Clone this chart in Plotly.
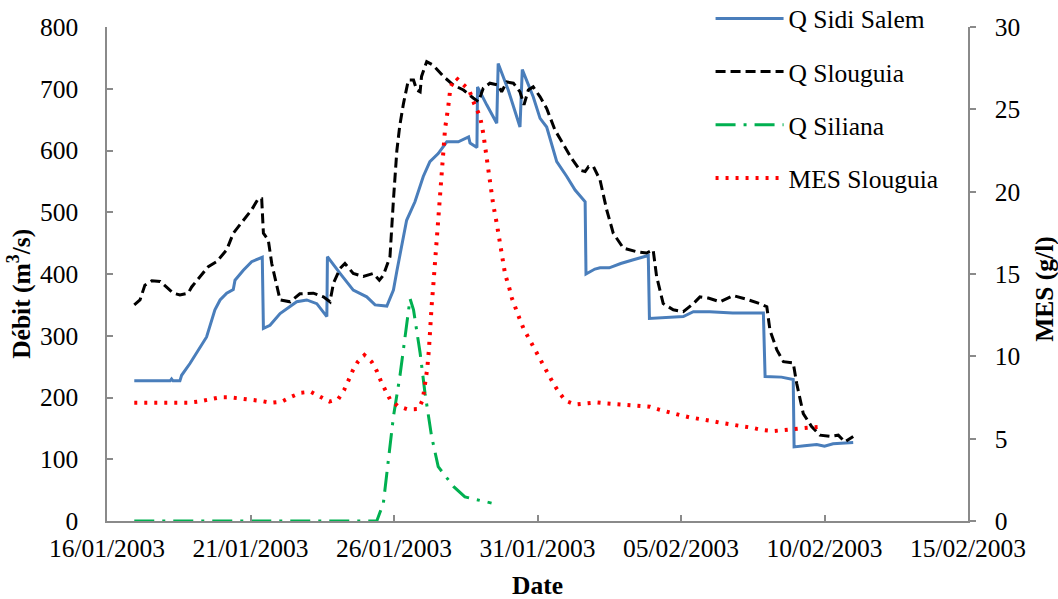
import pandas as pd
import plotly.graph_objects as go

# Time axis: days elapsed since 16/01/2003 00:00
base_date = "2003-01-16"

sidi_days = [0.95, 2.2, 2.25, 2.3, 2.54, 2.6, 2.89, 3.24, 3.47, 3.76, 3.94, 4.17, 4.4, 4.46, 4.75, 5.04,
             5.41, 5.45, 5.68, 6.03, 6.61, 6.96, 7.31, 7.66, 7.68, 8.12, 8.58, 9.05, 9.34, 9.75, 9.98,
             10.1, 10.25, 10.44, 10.73, 11.02, 11.25, 11.54, 11.84, 12.24, 12.6, 12.65, 12.89, 12.91,
             13.23, 13.58, 13.63, 13.98, 14.39, 14.47, 14.85, 15.09, 15.32, 15.67, 16.02, 16.31, 16.66,
             16.69, 17.0, 17.18, 17.5, 17.9, 18.34, 18.86, 18.9, 19.5, 20.08, 20.43, 21.0, 21.8, 22.87,
             22.93, 23.5, 23.91, 23.94, 24.3, 24.73, 25.0, 25.3, 26.0]
sidi_q = [227, 227, 230, 227, 227, 236, 255, 280, 298, 342, 358, 369, 375, 390, 406, 420,
          427, 312, 317, 336, 355, 358, 352, 331, 428, 401, 374, 363, 350, 348, 374,
          405, 440, 487, 517, 558, 582, 595, 614, 614, 622, 612, 605, 703,
          674, 644, 741, 698, 638, 731, 687, 652, 638, 582, 558, 536, 517,
          400, 408, 410, 410, 417, 423, 430, 328, 330, 331, 339, 339, 337, 337,
          234, 233, 229, 120, 122, 124, 121, 125, 127]

slou_days = [0.95, 1.15, 1.32, 1.56, 1.85, 2.08, 2.31, 2.54, 2.83, 2.95, 3.24, 3.53, 3.82, 4.17, 4.4,
             4.75, 5.04, 5.27, 5.39, 5.45, 5.62, 5.74, 5.91, 6.03, 6.38, 6.72, 7.19, 7.54, 7.77, 7.89,
             8.12, 8.29, 8.58, 8.93, 9.28, 9.49, 9.63, 9.86, 9.98, 10.1, 10.2, 10.33, 10.5, 10.68,
             10.79, 10.91, 10.96, 11.14, 11.37, 11.72, 12.07, 12.42, 12.76, 12.94, 13.11, 13.34,
             13.63, 13.75, 13.93, 14.16, 14.39, 14.53, 14.68, 14.85, 15.09, 15.32, 15.61, 15.9,
             16.19, 16.48, 16.66, 16.78, 16.95, 17.18, 17.41, 17.64, 17.99, 18.46, 18.8, 19.03,
             19.15, 19.38, 19.73, 20.08, 20.43, 20.66, 20.95, 21.36, 21.82, 22.29, 22.75, 22.99,
             23.1, 23.34, 23.57, 23.91, 24.03, 24.26, 24.55, 24.84, 25.19, 25.48, 25.71, 26.0]
slou_q = [350, 358, 382, 389, 388, 379, 369, 366, 369, 379, 396, 412, 420, 439, 466,
          487, 504, 522, 522, 466, 455, 417, 379, 358, 355, 368, 369, 363, 355, 385,
          409, 417, 401, 396, 401, 390, 398, 428, 520, 600, 640, 676, 714, 714,
          698, 695, 720, 744, 738, 720, 706, 698, 685, 679, 701, 709,
          706, 695, 711, 709, 695, 674, 698, 703, 687, 668, 633, 609,
          587, 568, 566, 574, 574, 552, 504, 466, 442, 436, 434, 439,
          396, 352, 342, 339, 352, 363, 361, 355, 365, 359, 352, 347,
          309, 277, 258, 256, 223, 174, 153, 139, 137, 139, 128, 137]

sil_days = [0.95, 9.4, 9.63, 9.75, 9.98, 10.21, 10.38, 10.56, 10.68, 10.91, 11.08, 11.31, 11.54,
            12.07, 12.47, 13.4]
sil_q = [0, 0, 29, 77, 169, 236, 298, 360, 342, 272, 207, 137, 88, 56, 39, 29]

mes_days = [0.95, 2.43, 2.83, 3.18, 3.53, 3.94, 4.29, 4.63, 4.98, 5.37, 5.71, 6.09, 6.43, 6.75,
            7.1, 7.42, 7.75, 8.06, 8.26, 8.41, 8.56, 8.74, 8.97, 9.22, 9.4, 9.55, 9.71, 9.86,
            10.13, 10.48, 10.85, 11.0, 11.05, 11.11, 11.16, 11.22, 11.25, 11.31, 11.37, 11.43,
            11.46, 11.54, 11.66, 11.78, 11.89, 11.97, 12.16, 12.42, 12.62, 12.79, 13.0, 13.11,
            13.23, 13.34, 13.46, 13.58, 13.72, 13.87, 14.02, 14.11, 14.37, 14.51, 14.68, 14.85,
            15.03, 15.2, 15.38, 15.55, 15.75, 15.98, 16.31, 16.66, 17.04, 17.41, 17.76, 18.11,
            18.49, 18.92, 19.21, 19.56, 19.94, 20.29, 20.64, 21.01, 21.36, 21.73, 22.08, 22.46,
            22.81, 23.2, 23.54, 23.91, 24.26, 24.61, 24.98]
mes_gl = [7.18, 7.18, 7.18, 7.25, 7.39, 7.51, 7.51, 7.45, 7.39, 7.29, 7.18, 7.25, 7.55, 7.79,
          7.85, 7.55, 7.25, 7.41, 7.95, 8.52, 9.13, 9.67, 10.08, 9.67, 9.11, 8.46, 7.91, 7.39,
          6.98, 6.78, 6.8, 7.35, 7.95, 8.6, 9.27, 10.49, 11.8, 13.05, 14.33, 15.65,
          16.86, 18.07, 21.31, 23.84, 25.15, 26.37, 26.92, 26.53, 26.17, 25.36, 24.55, 23.54,
          21.92, 20.5, 19.19, 18.07, 16.65, 15.0, 14.13, 13.52, 12.31, 11.7, 11.15, 10.58,
          10.02, 9.47, 8.91, 8.36, 7.81, 7.3, 7.08, 7.14, 7.2, 7.14, 7.1, 7.06,
          6.98, 6.94, 6.78, 6.6, 6.44, 6.3, 6.17, 6.09, 5.97, 5.89, 5.77, 5.67,
          5.53, 5.46, 5.53, 5.57, 5.67, 5.69, 5.73]

series_names = ["Q Sidi Salem", "Q Slouguia", "Q Siliana", "MES Slouguia"]
tick_dates = ["2003-01-16", "2003-01-21", "2003-01-26", "2003-01-31",
              "2003-02-05", "2003-02-10", "2003-02-15"]
tick_labels = ["16/01/2003", "21/01/2003", "26/01/2003", "31/01/2003",
               "05/02/2003", "10/02/2003", "15/02/2003"]


def to_dates(days):
    return pd.Timestamp(base_date) + pd.to_timedelta(days, unit="D")


FONT = "Liberation Serif"
FS = 25.5
AXIS_COL = "#8a8a8a"

fig = go.Figure()
fig.add_trace(go.Scatter(x=to_dates(sidi_days), y=sidi_q, name=series_names[0], mode="lines",
                         line=dict(color="#4a7ebb", width=3), legendgroup="a"))
fig.add_trace(go.Scatter(x=to_dates(slou_days), y=slou_q, name=series_names[1], mode="lines",
                         line=dict(color="#000000", width=3, dash="10px,5px"), legendgroup="b"))
fig.add_trace(go.Scatter(x=to_dates(sil_days), y=sil_q, name=series_names[2], mode="lines",
                         line=dict(color="#00b050", width=3, dash="20px,8px,3px,8px"), legendgroup="c"))
fig.add_trace(go.Scatter(x=to_dates(mes_days), y=mes_gl, name=series_names[3], mode="lines",
                         line=dict(color="#ff0000", width=4, dash="3px,7px"), yaxis="y2",
                         legendgroup="d"))

fig.update_layout(
    width=1058, height=599,
    margin=dict(l=107, r=90, t=27, b=78, autoexpand=False),
    paper_bgcolor="white", plot_bgcolor="white",
    font=dict(family=FONT, size=FS, color="black"),
    showlegend=True,
    legend=dict(x=0.701, y=1.064, xanchor="left", yanchor="top", bgcolor="rgba(0,0,0,0)",
                font=dict(family=FONT, size=FS, color="black"), itemwidth=68,
                tracegroupgap=17),
    xaxis=dict(type="date", range=["2003-01-16", "2003-02-15"],
               tickmode="array", tickvals=tick_dates, ticktext=tick_labels,
               ticks="inside", ticklen=6, tickcolor=AXIS_COL, tickwidth=1.5,
               showline=True, linecolor=AXIS_COL, linewidth=1.5, showgrid=False, zeroline=False,
               tickfont=dict(family=FONT, size=FS), ticklabelstandoff=4),
    yaxis=dict(range=[0, 800], dtick=100, ticks="inside", ticklen=6, tickcolor=AXIS_COL,
               tickwidth=1.5, showline=True, linecolor=AXIS_COL, linewidth=1.5,
               showgrid=False, zeroline=False, tickfont=dict(family=FONT, size=FS),
               ticklabelstandoff=22),
    yaxis2=dict(range=[0, 30], dtick=5, overlaying="y", side="right", ticks="outside",
                ticklen=6, tickcolor=AXIS_COL, tickwidth=1.5, showline=True, linecolor=AXIS_COL,
                linewidth=1.5, showgrid=False, zeroline=False,
                tickfont=dict(family=FONT, size=FS), ticklabelstandoff=14),
    annotations=[
        dict(text="<b>Débit (m<sup>3</sup>/s)</b>", xref="paper", yref="paper",
             x=-0.101, y=0.46, textangle=-90, showarrow=False,
             font=dict(family=FONT, size=FS), xanchor="center", yanchor="middle"),
        dict(text="<b>MES (g/l)</b>", xref="paper", yref="paper",
             x=1.0 + (1045 - 968) / 861, y=0.47, textangle=-90, showarrow=False,
             font=dict(family=FONT, size=FS), xanchor="center", yanchor="middle"),
        dict(text="<b>Date</b>", xref="paper", yref="paper",
             x=(537 - 107) / 861, y=-(585 - 521) / 494, showarrow=False,
             font=dict(family=FONT, size=FS), xanchor="center", yanchor="middle"),
    ],
)

fig.write_html("out.html", config={"displayModeBar": False},
               post_script="document.body.style.margin='0';document.body.style.overflow='hidden';")
